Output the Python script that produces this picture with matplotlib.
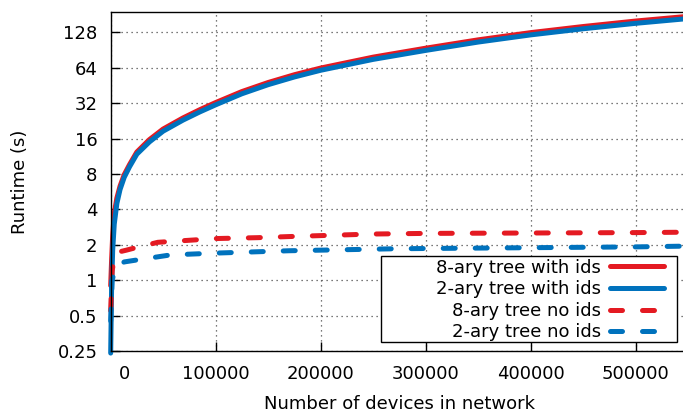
import numpy as np
import matplotlib
matplotlib.use("Agg")
import matplotlib.pyplot as plt
import matplotlib.transforms as mtransforms
from matplotlib.offsetbox import DrawingArea, HPacker
from matplotlib.ticker import FixedLocator, LogLocator, NullFormatter

#DATA
x_ids = [100, 1000, 2000, 3500, 6000, 9000, 13000, 18000, 25000, 37000, 50000, 69000, 85000,
         100000, 125000, 150000, 175000, 200000, 250000, 300000, 350000, 400000, 450000, 500000, 550000]
oct_ids = [0.9, 1.5, 2.4, 3.7, 5.0, 6.3, 7.9, 9.6, 12.3, 15.7, 19.3, 24.0, 28.2,
           32.4, 40.2, 48.0, 55.9, 63.7, 78.9, 94.0, 110.7, 127.5, 143.7, 160, 175.5]
bin_ids = [0.24, 0.9, 1.8, 3.0, 4.5, 5.9, 7.5, 9.2, 11.8, 15.0, 18.5, 23, 27,
           31, 38.5, 46, 53.5, 61, 75.5, 90, 106, 122, 137.5, 153, 168]

x_oct_noids = [100, 1500, 4000, 8000, 15000, 25000, 45000, 80000, 100000,
               140000, 170000, 250000, 300000, 400000, 500000, 550000]
oct_noids = [0.55, 1.2, 1.65, 1.74, 1.8, 1.9, 2.1, 2.2, 2.26,
             2.3, 2.35, 2.47, 2.5, 2.52, 2.54, 2.56]

x_bin_noids = [100, 1500, 5000, 13000, 28000, 57000, 100000, 170000,
               270000, 300000, 400000, 500000, 550000]
bin_noids = [0.45, 1.0, 1.3, 1.43, 1.5, 1.64, 1.70, 1.78,
             1.85, 1.86, 1.89, 1.92, 1.95]

labels = ['8-ary tree with ids', '2-ary tree with ids', '8-ary tree no ids', '2-ary tree no ids']
ytick_vals = [0.25, 0.5, 1, 2, 4, 8, 16, 32, 64, 128]
ytick_labels = ['0.25', '0.5', '1', '2', '4', '8', '16', '32', '64', '128']
xtick_vals = [0, 100000, 200000, 300000, 400000, 500000]

RED = '#e41a22'
BLUE = '#0072bd'

plt.rcParams['font.family'] = 'DejaVu Sans'
plt.rcParams['font.size'] = 13

fig = plt.figure(figsize=(6.83, 4.12), dpi=100)
ax = fig.add_axes([0.1619, 0.1481, 0.8381, 0.8228])

lw = 3.6
dash = (2.4, 4.0)
ax.plot(x_ids, oct_ids, color=RED, lw=lw, solid_capstyle='round', solid_joinstyle='round', clip_on=False, label=labels[0])
ax.plot(x_ids, bin_ids, color=BLUE, lw=lw, solid_capstyle='round', solid_joinstyle='round', clip_on=False, label=labels[1])
ax.plot(x_oct_noids, oct_noids, color=RED, lw=lw, dashes=dash, dash_capstyle='round', clip_on=False, label=labels[2])
ax.plot(x_bin_noids, bin_noids, color=BLUE, lw=lw, dashes=dash, dash_capstyle='round', clip_on=False, label=labels[3])

#axes
ax.set_yscale('log', base=2)
ax.set_ylim(0.25, 191)
ax.set_xlim(0, 545000)
ax.yaxis.set_major_locator(FixedLocator(ytick_vals))
ax.set_yticklabels(ytick_labels)
ax.yaxis.set_minor_locator(LogLocator(base=2, subs=np.arange(1.125, 2.0, 0.125)))
ax.yaxis.set_minor_formatter(NullFormatter())
ax.set_xticks(xtick_vals)
ax.set_xticklabels([str(v) for v in xtick_vals])
ax.tick_params(axis='both', which='major', direction='in', length=6.5, width=1.0)
ax.tick_params(axis='y', which='minor', direction='in', length=3, width=0.6)
ax.tick_params(axis='y', which='major', pad=9.4)
ax.tick_params(axis='x', which='major', pad=10)
ax.tick_params(top=False, right=False)
ax.spines['right'].set_visible(False)
for s in ['left', 'bottom', 'top']:
    ax.spines[s].set_linewidth(1.0)

# the "0" label sits right of its tick in the reference
lab0 = ax.get_xticklabels()[0]
lab0.set_transform(lab0.get_transform() + mtransforms.ScaledTranslation(14 / 100, 0, fig.dpi_scale_trans))

ax.grid(True, which='major', linestyle=(0, (1, 3)), color='0.3', lw=0.9)
ax.set_axisbelow(True)

ax.set_ylabel('Runtime (s)')
ax.yaxis.set_label_coords(-0.1574, 0.5)
ax.yaxis.label.set_va('center')
ax.set_xlabel('Number of devices in network')
ax.xaxis.set_label_coords(0.5056, -0.156)
ax.xaxis.label.set_va('center')

#legend, text right aligned, line sample on the right
leg = ax.legend(loc='lower right', bbox_to_anchor=(0.9895, 0.0265), borderaxespad=0,
                markerfirst=False, fancybox=False, framealpha=1, edgecolor='black',
                handlelength=3.0, handletextpad=0.5, labelspacing=0.2, borderpad=0.03,
                alignment='right')
leg.get_frame().set_linewidth(1.0)
# right-align every row so the texts line up on their right end
for col in leg._legend_handle_box.get_children():
    col.align = 'right'
# gnuplot key is wider than its contents: spacer on top (sets width) and on the right
spacer_top = DrawingArea(212.4, 1.7)
right_box = HPacker(pad=0, sep=0, align='top', children=[leg._legend_handle_box, DrawingArea(8.8, 0)])
spacer_top.set_figure(fig)
right_box.set_figure(fig)
leg._legend_box._children[0] = spacer_top
leg._legend_box._children[1] = right_box
leg._legend_box.sep = 0

fig.savefig('out.png', dpi=100)
